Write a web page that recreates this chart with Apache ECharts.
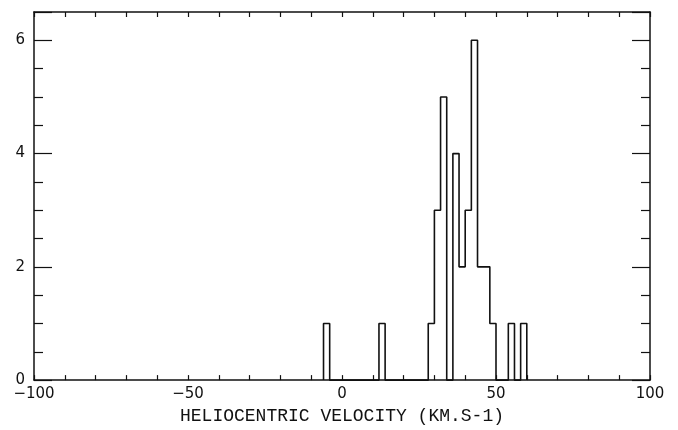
<!DOCTYPE html>
<html>
<head>
<meta charset="utf-8">
<script src="https://cdn.jsdelivr.net/npm/echarts@6/dist/echarts.min.js"></script>
<style>html,body{margin:0;padding:0;background:#fff;}#c{width:678px;height:430px;}</style>
</head>
<body>
<div id="c"></div>
<script>
// Histogram bins (left edge, km/s), bin width 2
const binWidth = 2;
const binStarts = [-6, 12, 28, 30, 32, 34, 36, 38, 40, 42, 44, 46, 48, 50, 52, 54, 56, 58];
const counts    = [ 1,  1,  1,  3,  5,  0,  4,  2,  3,  6,  2,  2,  1,  0,  0,  1,  0,  1];
const xTicks = [-100, -50, 0, 50, 100];
const yTicks = [0, 2, 4, 6];

// Build step outline from the bins (edges between consecutive bins, gaps at zero)
const pts = [];
let prevEnd = null;
for (let i = 0; i < binStarts.length; i++) {
  const a = binStarts[i], b = a + binWidth, c = counts[i];
  if (prevEnd !== null && a > prevEnd) { pts.push([prevEnd, 0]); pts.push([a, 0]); }
  else if (prevEnd === null) { pts.push([a, 0]); }
  pts.push([a, c]); pts.push([b, c]);
  prevEnd = b;
}
pts.push([prevEnd, 0]);

const ink = '#111';
const fontTick = {color: ink, fontFamily: 'DejaVu Sans', fontSize: 15};
const chart = echarts.init(document.getElementById('c'));
chart.setOption({
  animation: false,
  backgroundColor: '#fff',
  grid: {left: 34, right: 28, top: 12, bottom: 45, containLabel: false},
  xAxis: [{
    type: 'value', min: -100, max: 100, interval: 50, position: 'bottom',
    name: 'HELIOCENTRIC VELOCITY (KM.S-1)', nameLocation: 'middle', nameGap: 17,
    nameTextStyle: {color: ink, fontFamily: 'Liberation Mono', fontSize: 18},
    axisLine: {show: true, onZero: false, lineStyle: {color: ink, width: 1.5}},
    axisTick: {show: true, inside: true, length: 5, lineStyle: {color: ink, width: 1.2}},
    minorTick: {show: true, splitNumber: 5, length: 5, lineStyle: {color: ink, width: 1.2}},
    axisLabel: Object.assign({margin: 7, formatter: v => xTicks.includes(v) ? String(v).replace('-', '\u2212') : ''}, fontTick),
    splitLine: {show: false}
  }, {
    type: 'value', min: -100, max: 100, interval: 50, position: 'top',
    axisLine: {show: true, onZero: false, lineStyle: {color: ink, width: 1.5}},
    axisTick: {show: true, inside: true, length: 5, lineStyle: {color: ink, width: 1.2}},
    minorTick: {show: true, splitNumber: 5, length: 5, lineStyle: {color: ink, width: 1.2}},
    axisLabel: {show: false}, splitLine: {show: false}
  }],
  yAxis: [{
    type: 'value', min: 0, max: 6.5, interval: 2, position: 'left',
    axisLine: {show: true, onZero: false, lineStyle: {color: ink, width: 1.5}},
    axisTick: {show: true, inside: true, length: 18, lineStyle: {color: ink, width: 1.2}},
    minorTick: {show: true, splitNumber: 4, length: 9, lineStyle: {color: ink, width: 1.2}},
    axisLabel: Object.assign({margin: 9, formatter: v => yTicks.includes(v) ? String(v) : ''}, fontTick),
    splitLine: {show: false}
  }, {
    type: 'value', min: 0, max: 6.5, interval: 2, position: 'right',
    axisLine: {show: true, onZero: false, lineStyle: {color: ink, width: 1.5}},
    axisTick: {show: true, inside: true, length: 18, lineStyle: {color: ink, width: 1.2}},
    minorTick: {show: true, splitNumber: 4, length: 9, lineStyle: {color: ink, width: 1.2}},
    axisLabel: {show: false}, splitLine: {show: false}
  }],
  series: [{
    type: 'line', data: pts, xAxisIndex: 0, yAxisIndex: 0,
    showSymbol: false, symbol: 'none',
    lineStyle: {color: ink, width: 1.6}
  }]
});
</script>
</body>
</html>
